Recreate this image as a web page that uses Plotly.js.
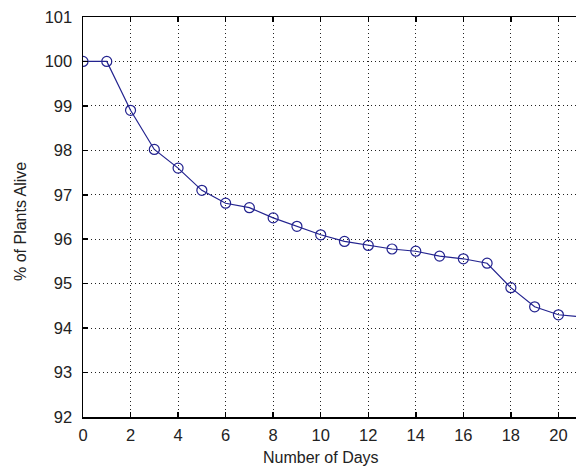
<!DOCTYPE html>
<html>
<head>
<meta charset="utf-8">
<script src="https://cdn.plot.ly/plotly-3.0.1.min.js"></script>
<style>html,body{margin:0;padding:0;background:#fff;}#chart{width:576px;height:468px;}</style>
</head>
<body>
<div id="chart"></div>
<script>
var days = [0,1,2,3,4,5,6,7,8,9,10,11,12,13,14,15,16,17,18,19,20,21];
var pctAlive = [100,100,98.9,98.02,97.6,97.1,96.81,96.71,96.48,96.29,96.1,95.95,95.86,95.78,95.73,95.62,95.56,95.46,94.91,94.48,94.3,94.25];
var xTicks = [0,2,4,6,8,10,12,14,16,18,20];
var yTicks = [92,93,94,95,96,97,98,99,100,101];
var xTitle = "Number of Days";
var yTitle = "% of Plants Alive";

var fontFam = "Liberation Sans, Arial, sans-serif";
var trace = {
  x: days, y: pctAlive, type: 'scatter', mode: 'lines+markers',
  line: {color: '#23238f', width: 1.2},
  marker: {symbol: 'circle-open', size: 10, color: '#23238f', line: {width: 1.2, color: '#23238f'}},
  cliponaxis: true, hoverinfo: 'skip'
};
var axisCommon = {
  showgrid: true, gridcolor: '#222', griddash: '1px,3px', gridwidth: 1,
  showline: true, linecolor: '#000', linewidth: 1.5,
  ticks: 'inside', ticklen: 5, tickwidth: 1.5, tickcolor: '#000',
  zeroline: false, tickfont: {family: fontFam, size: 16.5, color: '#222'}
};
var layout = {
  width: 576, height: 468,
  margin: {l: 83, r: 0, t: 17, b: 51},
  paper_bgcolor: '#fff', plot_bgcolor: '#fff',
  showlegend: false,
  xaxis: Object.assign({}, axisCommon, {range: [0, 20.74], tickvals: xTicks, mirror: 'ticks', ticklabelstandoff: 3}),
  yaxis: Object.assign({}, axisCommon, {range: [92, 101], tickvals: yTicks, ticklabelstandoff: 6}),
  annotations: [
    {text: xTitle, xref: 'paper', yref: 'paper', x: (321-83)/493, y: -(457-417)/400, xanchor: 'center', yanchor: 'middle', showarrow: false, font: {family: fontFam, size: 16, color: '#222'}},
    {text: yTitle, xref: 'paper', yref: 'paper', x: -(83-20)/493, y: (417-221)/400, xanchor: 'center', yanchor: 'middle', textangle: -90, showarrow: false, font: {family: fontFam, size: 16, color: '#222'}}
  ]
};
Plotly.newPlot('chart', [trace], layout, {staticPlot: true});
</script>
</body>
</html>
